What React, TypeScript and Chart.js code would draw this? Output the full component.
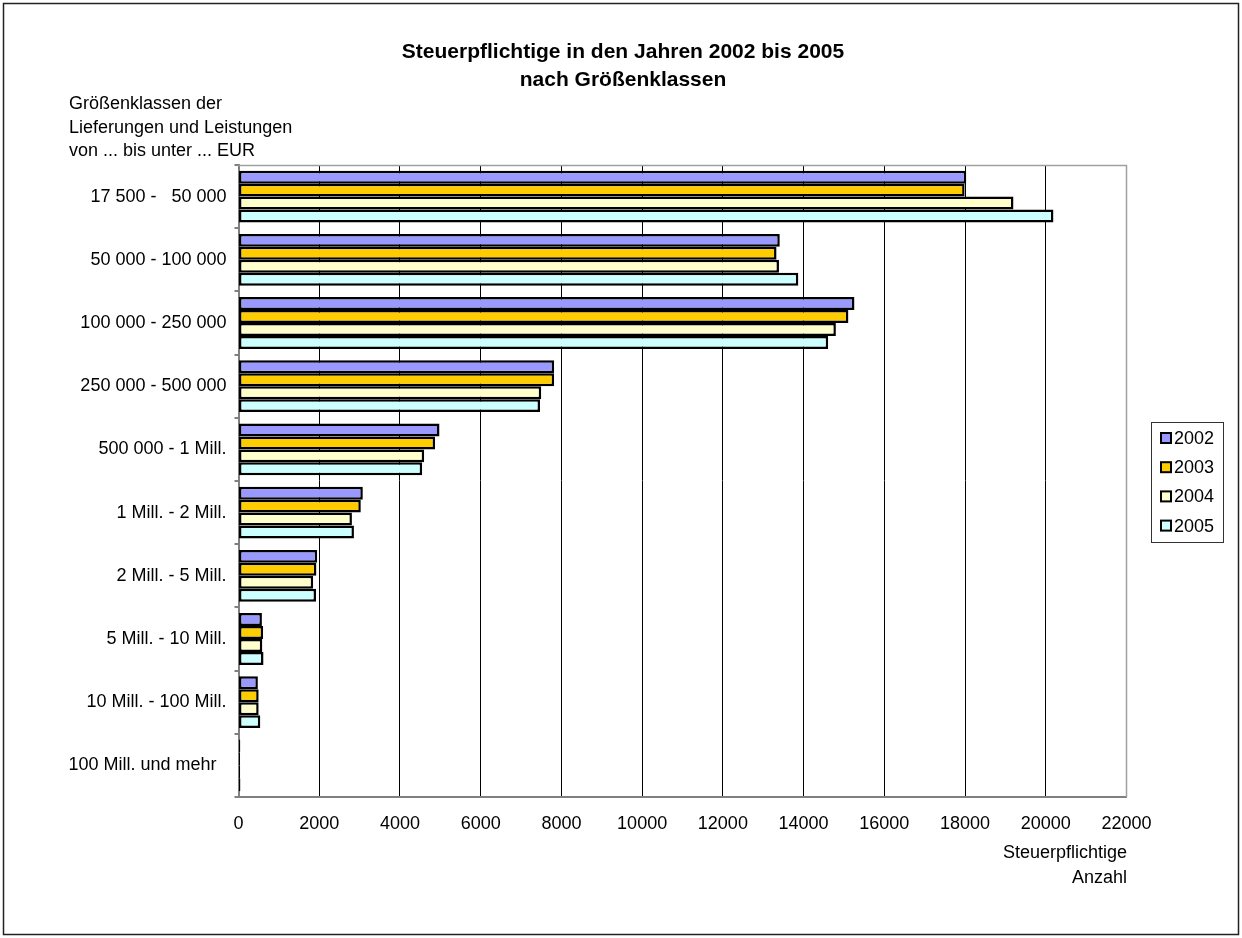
import React, { useEffect, useRef } from "react";
import { Chart, registerables } from "chart.js";

Chart.register(...registerables);

const categories = [
  "17 500 -   50 000",
  "50 000 - 100 000",
  "100 000 - 250 000",
  "250 000 - 500 000",
  "500 000 - 1 Mill.",
  "1 Mill. - 2 Mill.",
  "2 Mill. - 5 Mill.",
  "5 Mill. - 10 Mill.",
  "10 Mill. - 100 Mill.",
  "100 Mill. und mehr  ",
];

const seriesNames = ["2002", "2003", "2004", "2005"];
const values2002 = [18030, 13410, 15260, 7820, 4980, 3080, 1950, 580, 480, 45];
const values2003 = [17990, 13330, 15110, 7820, 4870, 3030, 1930, 610, 500, 40];
const values2004 = [19200, 13390, 14800, 7500, 4600, 2810, 1850, 590, 500, 42];
const values2005 = [20190, 13870, 14610, 7470, 4550, 2860, 1920, 620, 540, 48];
const seriesColors = ["#9999FF", "#FFCC00", "#FFFFCC", "#CCFFFF"];

const titleLines = ["Steuerpflichtige in den Jahren 2002 bis 2005", "nach Größenklassen"];
const yTitleLines = ["Größenklassen der", "Lieferungen und Leistungen", "von ... bis unter ... EUR"];
const xTitleLines = ["Steuerpflichtige", "Anzahl"];
const xMin = 0;
const xMax = 22000;
const xStep = 2000;

const FONT = "'Liberation Sans', Arial, Helvetica, sans-serif";

export default function App() {
  const ref = useRef<HTMLCanvasElement | null>(null);

  useEffect(() => {
    document.body.style.margin = "0";
    document.body.style.background = "#ffffff";
    const canvas = ref.current;
    if (!canvas) return;
    const allValues = [values2002, values2003, values2004, values2005];

    const decor = {
      id: "decor",
      beforeDraw(chart: any) {
        const c = chart.ctx;
        c.save();
        c.fillStyle = "#ffffff";
        c.fillRect(0, 0, chart.width, chart.height);
        c.restore();
      },
      afterDraw(chart: any) {
        const c = chart.ctx;
        const area = chart.chartArea;
        c.save();
        // plot border (top / right)
        c.strokeStyle = "#a0a0a0";
        c.lineWidth = 1.5;
        c.beginPath();
        c.moveTo(area.left, area.top + 0.5);
        c.lineTo(area.right, area.top + 0.5);
        c.lineTo(area.right, area.bottom);
        c.stroke();

        // outer frame
        c.strokeStyle = "#222222";
        c.lineWidth = 1.5;
        c.strokeRect(3.5, 3.5, 1235, 931);

        // title
        c.fillStyle = "#000000";
        c.font = `bold 21px ${FONT}`;
        c.textAlign = "center";
        c.textBaseline = "middle";
        titleLines.forEach((t, i) => c.fillText(t, 623, 52 + i * 28));

        // y axis title
        c.font = `18px ${FONT}`;
        c.textAlign = "left";
        yTitleLines.forEach((t, i) => c.fillText(t, 69, 104 + i * 23.7));

        // x axis title
        c.textAlign = "right";
        xTitleLines.forEach((t, i) => c.fillText(t, 1127, 853 + i * 25));

        // legend
        c.strokeStyle = "#333333";
        c.lineWidth = 1;
        c.strokeRect(1151.5, 422.5, 72, 120);
        c.textAlign = "left";
        c.font = `18px ${FONT}`;
        seriesNames.forEach((name, i) => {
          const cy = 438 + i * 29.2;
          c.fillStyle = seriesColors[i];
          c.fillRect(1161, cy - 5, 10, 10);
          c.strokeStyle = "#000000";
          c.lineWidth = 2;
          c.strokeRect(1161, cy - 5, 10, 10);
          c.fillStyle = "#000000";
          c.fillText(name, 1174, cy + 1);
        });
        c.restore();
      },
    };

    const chart = new Chart(canvas, {
      type: "bar",
      data: {
        labels: categories,
        datasets: seriesNames.map((name, i) => ({
          label: name,
          data: allValues[i],
          backgroundColor: seriesColors[i],
          borderColor: "#000000",
          borderWidth: 2.5,
          borderSkipped: false,
          barPercentage: 1,
          categoryPercentage: 0.82,
        })),
      },
      options: {
        indexAxis: "y",
        responsive: false,
        animation: false,
        layout: { padding: { top: 165, right: 115.5, left: 0, bottom: 0 } },
        plugins: {
          legend: { display: false },
          title: { display: false },
          tooltip: { enabled: false },
        },
        scales: {
          x: {
            type: "linear",
            min: xMin,
            max: xMax,
            ticks: {
              stepSize: xStep,
              color: "#000000",
              font: { family: FONT, size: 18 },
              padding: 16,
              maxRotation: 0,
              autoSkip: false,
              callback: (v: any) => String(v),
            },
            grid: {
              color: (ctx: any) =>
                ctx.tick && (ctx.tick.value === xMax || ctx.tick.value === xMin) ? "rgba(0,0,0,0)" : "#000000",
              lineWidth: 1,
              drawTicks: false,
            },
            border: { color: "#808080", width: 2 },
            afterFit: (scale: any) => {
              scale.height = 141;
            },
          },
          y: {
            type: "category",
            offset: true,
            ticks: {
              color: "#000000",
              font: { family: FONT, size: 18 },
              padding: 8,
              autoSkip: false,
            },
            grid: {
              offset: true,
              drawOnChartArea: false,
              drawTicks: true,
              tickLength: 4,
              color: "#808080",
              lineWidth: 2,
            },
            border: { color: "#808080", width: 2 },
            afterFit: (scale: any) => {
              scale.width = 238.5;
            },
          },
        },
      },
      plugins: [decor],
    } as any);

    return () => chart.destroy();
  }, []);

  return (
    <div style={{ width: 1242, height: 938 }}>
      <canvas ref={ref} width={1242} height={938} style={{ display: "block", width: 1242, height: 938 }} />
    </div>
  );
}
